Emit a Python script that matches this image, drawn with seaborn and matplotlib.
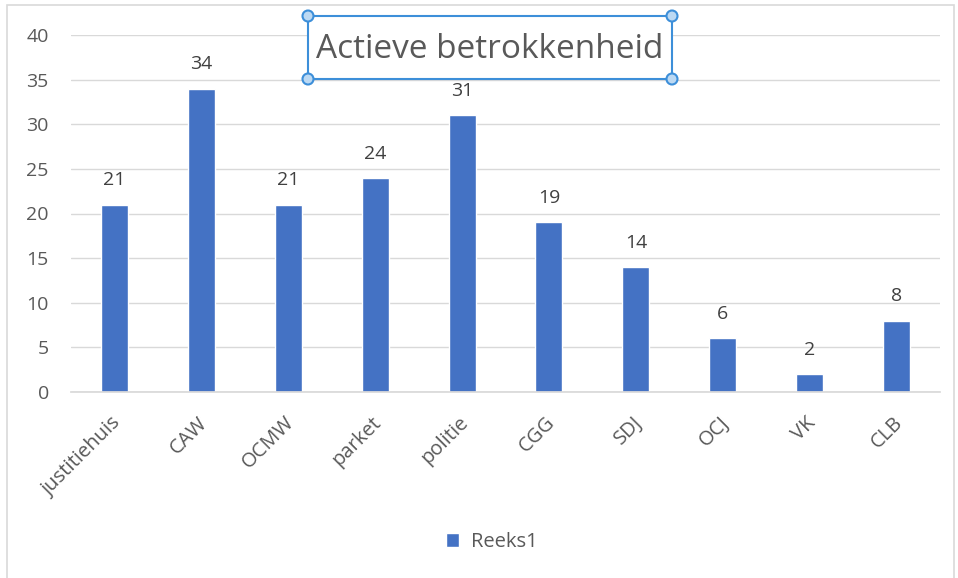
import matplotlib
matplotlib.use("Agg")
import matplotlib.pyplot as plt
import matplotlib.patches as mpatches
import matplotlib.transforms as mtrans
import seaborn as sns
import pandas as pd

# data
categorieen = ["justitiehuis", "CAW", "OCMW", "parket", "politie",
               "CGG", "SDJ", "OCJ", "VK", "CLB"]
waarden = [21, 34, 21, 24, 31, 19, 14, 6, 2, 8]
reeks = "Reeks1"
titel = "Actieve betrokkenheid"

blauw = "#4472C4"
grijs = "#595959"

sns.set_theme(style="white")
plt.rcParams["font.family"] = ["Open Sans", "DejaVu Sans"]

df = pd.DataFrame({"categorie": categorieen, "waarde": waarden})

fig = plt.figure(figsize=(9.58, 5.78), dpi=100)
ax = fig.add_axes([71 / 958, 1 - 392 / 578, 869 / 958, 357 / 578])

sns.barplot(data=df, x="categorie", y="waarde", color=blauw, width=0.31,
            saturation=1, label=reeks, ax=ax)

ax.bar_label(ax.containers[0], padding=11, fontsize=14, color="#404040")

ax.set_ylim(0, 40)
ax.set_yticks(range(0, 41, 5))
ax.set_xlim(-0.5, len(categorieen) - 0.5)
ax.set_xlabel("")
ax.set_ylabel("")
ax.yaxis.grid(True, color="#d9d9d9", linewidth=1)
ax.set_axisbelow(True)
for s in ["top", "right", "left"]:
    ax.spines[s].set_visible(False)
ax.spines["bottom"].set_color("#d9d9d9")
ax.tick_params(axis="y", length=0, pad=16, labelsize=14, labelcolor=grijs)
ax.tick_params(axis="x", length=0, pad=15, labelsize=14.5, labelcolor=grijs)
verschuif = mtrans.ScaledTranslation(-0.04, 0, fig.dpi_scale_trans)
for lbl in ax.get_xticklabels():
    lbl.set_rotation(45)
    lbl.set_ha("right")
    lbl.set_rotation_mode("anchor")
    lbl.set_transform(lbl.get_transform() + verschuif)

# legenda
if ax.get_legend():
    ax.get_legend().remove()
h, l = ax.get_legend_handles_labels()
fig.legend(h[:1], [reeks], loc="center", bbox_to_anchor=(492 / 958, 1 - 542 / 578),
           frameon=False, handlelength=0.65, handleheight=0.65, handletextpad=0.6,
           fontsize=14.5, labelcolor=grijs)

# titel met selectiekader
tr = fig.dpi_scale_trans
kader = "#3d8fd9"
fig.patches.append(mpatches.Rectangle((3.08, (578 - 79) / 100), 3.64, 0.63,
                                      transform=tr, facecolor="white",
                                      edgecolor=kader, linewidth=1.5, figure=fig))
fig.text(4.90, (578 - 49) / 100, titel, transform=tr, ha="center", va="center",
         fontsize=24, color=grijs)
for cx in (3.08, 6.72):
    for cy in ((578 - 16) / 100, (578 - 79) / 100):
        fig.patches.append(mpatches.Circle((cx, cy), 0.055, transform=tr,
                                           facecolor="#bcd9f3", edgecolor=kader,
                                           linewidth=1.5, figure=fig))

# rand om de grafiek
fig.patches.append(mpatches.Rectangle((0.07, -0.1), 9.47, 5.83, transform=tr,
                                      fill=False, edgecolor="#d9d9d9",
                                      linewidth=1.2, figure=fig))

fig.savefig("out.png", dpi=100)
